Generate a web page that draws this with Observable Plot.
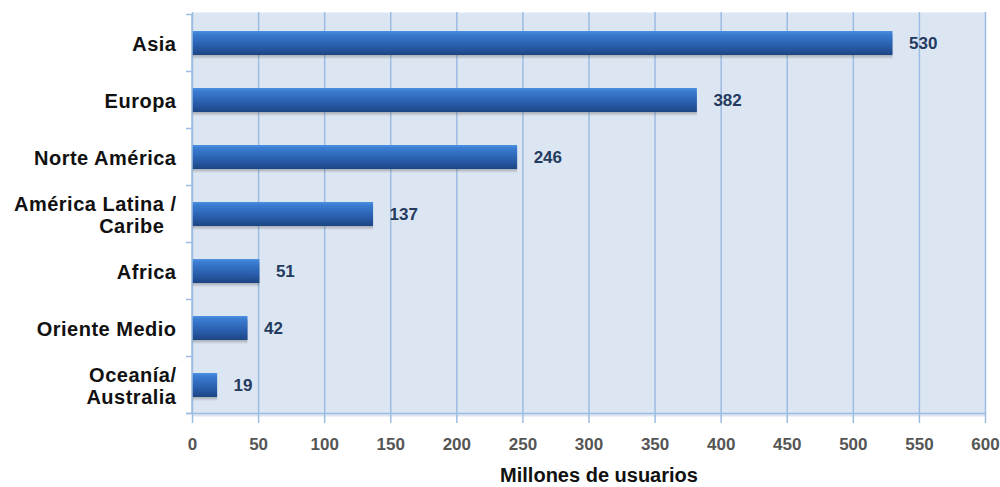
<!DOCTYPE html>
<html><head><meta charset="utf-8">
<script src="https://cdn.jsdelivr.net/npm/d3@7"></script>
<script src="https://cdn.jsdelivr.net/npm/@observablehq/plot@0.6"></script>
<style>
body{margin:0;background:#fff;}
#chart svg{font-family:"Liberation Sans",Arial,sans-serif;}
</style></head><body><div id="chart"></div>
<script>
const regions = ["Asia","Europa","Norte América","América Latina /\nCaribe  ","Africa","Oriente Medio","Oceanía/\nAustralia"];
const users = [530,382,246,137,51,42,19];
const xTicks = [0,50,100,150,200,250,300,350,400,450,500,550,600];
const axisTitle = "Millones de usuarios";
const data = regions.map((r,i)=>({region:r, value:users[i]}));

const plot = Plot.plot({
  width:1000, height:487, marginLeft:192, marginRight:15, marginTop:12, marginBottom:71,
  style:{background:"transparent", overflow:"visible", fontFamily:"'Liberation Sans',Arial,sans-serif"},
  x:{domain:[0,600], label:null},
  y:{domain:regions, axis:null, paddingInner:0.58, paddingOuter:0.29},
  marks:[
    Plot.frame({fill:"#dce6f2", stroke:null}),
    Plot.gridX(xTicks, {stroke:"#9dbce2", strokeOpacity:1, strokeWidth:1.5}),
    Plot.axisX({ticks:xTicks, tickSize:7, tickPadding:14, stroke:"#9dbce2", strokeWidth:1.5, fill:"#555555", fontSize:17, fontWeight:"bold", label:null}),
    Plot.barX(data,{x:"value", y:"region", fill:"url(#shadowGrad)", dy:4}),
    Plot.barX(data,{x:"value", y:"region", fill:"url(#barGrad)"}),
    Plot.text(data,{x:"value", y:"region", text:d=>String(d.value), dx:16, textAnchor:"start", fill:"#243a5e", fontSize:17, fontWeight:"bold"}),
    Plot.text(regions,{y:d=>d, text:d=>d, frameAnchor:"left", dx:-16, textAnchor:"end", lineHeight:1.1, fontSize:20, fontWeight:"bold", fill:"#111"}),
    Plot.text([axisTitle],{frameAnchor:"bottom", dy:65, dx:10, text:d=>d, fontSize:20, fontWeight:"bold", fill:"#111"})
  ]
});
document.getElementById("chart").appendChild(plot);

const svg = d3.select(plot);
const defs = svg.insert("defs", ":first-child");
const g1 = defs.append("linearGradient").attr("id","barGrad").attr("x1",0).attr("y1",0).attr("x2",0).attr("y2",1);
[[0,"#4d91e2"],[0.12,"#3b7dd3"],[0.55,"#2b62b2"],[1,"#1d4584"]].forEach(([o,c])=>g1.append("stop").attr("offset",o).attr("stop-color",c));
const g2 = defs.append("linearGradient").attr("id","shadowGrad").attr("x1",0).attr("y1",0).attr("x2",0).attr("y2",1);
[[0,0.45],[0.83,0.4],[1,0.02]].forEach(([o,a])=>g2.append("stop").attr("offset",o).attr("stop-color","#555").attr("stop-opacity",a));

const textGroups = svg.selectAll('g[aria-label="text"]').nodes();
if (textGroups[1]) d3.select(textGroups[1]).style("letter-spacing","0.5px").style("white-space","pre");

const ys = plot.scale("y"), xs = plot.scale("x");
const n = regions.length;
const step = ys.step ?? (ys.range[1]-ys.range[0])/n;
const bw = ys.bandwidth ?? step*0.42;
const bounds = regions.map(r => ys.apply(r) - (step-bw)/2);
bounds.push(bounds[n-1] + step);
const x0 = xs.apply(0), x1 = xs.apply(600);
const ax = svg.append("g").attr("stroke","#9dbce2").attr("stroke-width",1.5);
ax.append("line").attr("x1",x0).attr("x2",x0).attr("y1",bounds[0]).attr("y2",bounds[n]);
ax.append("line").attr("x1",x0-6).attr("x2",x1).attr("y1",bounds[n]).attr("y2",bounds[n]);
bounds.forEach(b => ax.append("line").attr("x1",x0-6).attr("x2",x0).attr("y1",b).attr("y2",b));
</script></body></html>
